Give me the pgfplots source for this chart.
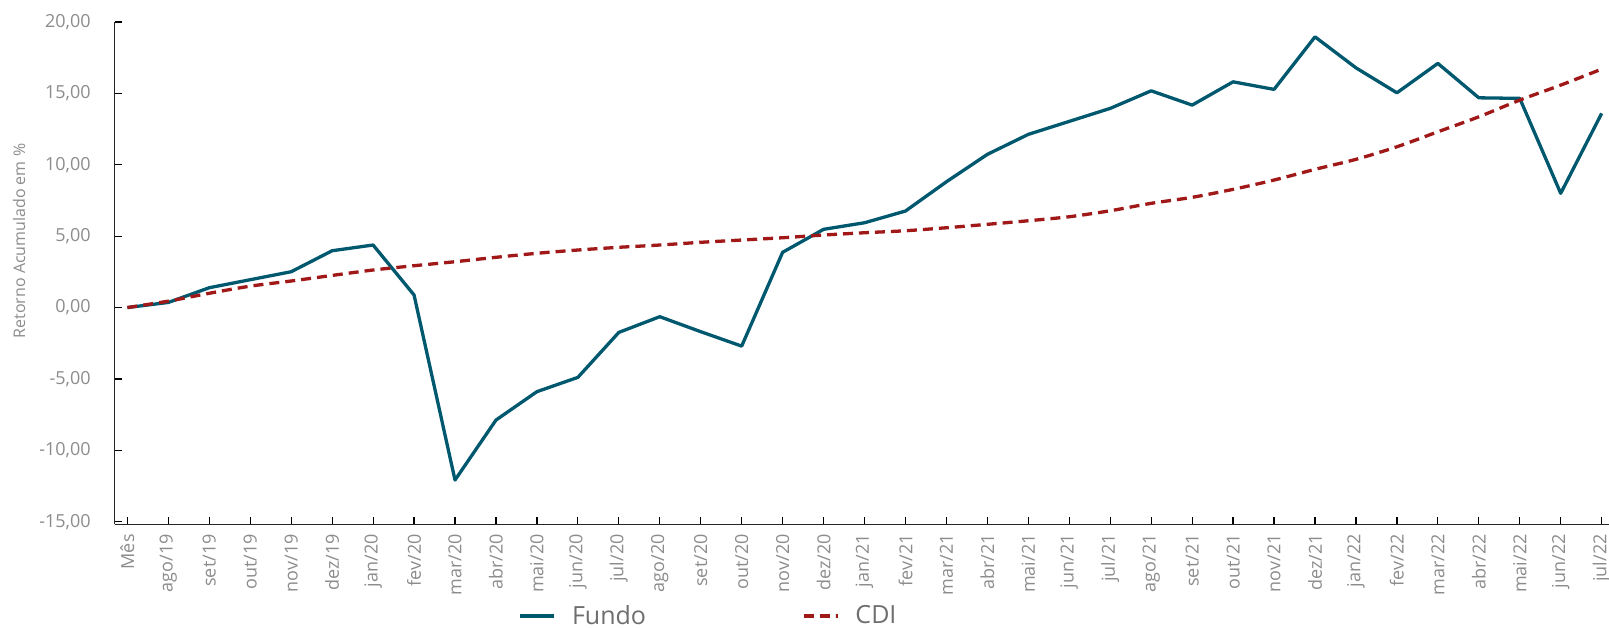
\documentclass[border=0pt]{standalone}
\usepackage{pgfplots}
\usepackage{pgfplotstable}
\pgfplotsset{compat=1.18}
\usepackage{fontspec}
\setmainfont{Open Sans}
\definecolor{fundo}{HTML}{00586E}
\definecolor{cdi}{HTML}{A01818}
\definecolor{tickgray}{HTML}{8C8C8C}
\definecolor{leggray}{HTML}{6E6E6E}

\pgfplotstableread{
x fundo cdi
0 0.00 0.00
1 0.36 0.45
2 1.39 1.00
3 1.95 1.50
4 2.51 1.86
5 3.98 2.25
6 4.38 2.63
7 0.88 2.93
8 -12.08 3.21
9 -7.88 3.52
10 -5.89 3.80
11 -4.89 4.03
12 -1.74 4.22
13 -0.64 4.38
14 -1.69 4.57
15 -2.70 4.73
16 3.87 4.89
17 5.48 5.08
18 5.94 5.24
19 6.76 5.38
20 8.81 5.59
21 10.73 5.83
22 12.13 6.08
23 13.04 6.36
24 13.95 6.78
25 15.18 7.30
26 14.18 7.72
27 15.81 8.28
28 15.28 8.93
29 18.96 9.68
30 16.79 10.38
31 15.04 11.26
32 17.10 12.31
33 14.69 13.36
34 14.65 14.53
35 8.00 15.58
36 13.60 16.70
}\datatable

\begin{document}
\begin{tikzpicture}
\begin{axis}[
  at={(57.35pt,51.35pt)}, anchor=south west,
  scale only axis, width=747.15pt, height=251.15pt,
  xmin=-0.31, xmax=36.18, ymin=-15.18, ymax=20,
  axis x line=bottom, axis y line=left,
  axis line style={-, line width=0.6pt, black!85},
  xtick={0,...,36},
  xticklabels={Mês,ago/19,set/19,out/19,nov/19,dez/19,jan/20,fev/20,mar/20,abr/20,mai/20,jun/20,jul/20,ago/20,set/20,out/20,nov/20,dez/20,jan/21,fev/21,mar/21,abr/21,mai/21,jun/21,jul/21,ago/21,set/21,out/21,nov/21,dez/21,jan/22,fev/22,mar/22,abr/22,mai/22,jun/22,jul/22},
  ytick={-15,-10,...,20},
  yticklabel={\pgfmathprintnumber[fixed,fixed zerofill,precision=2,use comma,assume math mode=true]{\tick}},
  major tick length=3.5pt,
  tick align=inside,
  tick style={black, line width=0.6pt},
  xticklabel style={rotate=90, anchor=east, font=\fontsize{9}{10}\selectfont, text=tickgray},
  yticklabel style={font=\fontsize{9}{10}\selectfont, text=tickgray},
  xticklabel shift=1.5pt,
  yticklabel shift=8.5pt,
  ylabel={Retorno Acumulado em \%},
  ylabel style={at={(axis description cs:-0.064,0.564)}, rotate=0, anchor=center, font=\fontsize{8}{10}\selectfont, text=tickgray},
  legend columns=2,
  legend cell align=left,
  legend style={at={(axis description cs:0.27,-0.1826)}, anchor=west, draw=none, fill=none, inner sep=0pt,
    font=\fontsize{12.5}{14}\selectfont, text=leggray,
    /tikz/every odd column/.append style={column sep=6pt},
    /tikz/every even column/.append style={column sep=76pt}},
]
\addplot[fundo, line width=1.65pt, line join=round] table[x=x, y=fundo] {\datatable};
\addlegendentry{Fundo}
\addplot[cdi, line width=1.65pt, dash pattern=on 5pt off 3pt, smooth] table[x=x, y=cdi] {\datatable};
\addlegendentry{CDI}
\end{axis}
\pgfresetboundingbox
\useasboundingbox (0,0) rectangle (804.5pt,313.5pt);
\end{tikzpicture}
\end{document}
